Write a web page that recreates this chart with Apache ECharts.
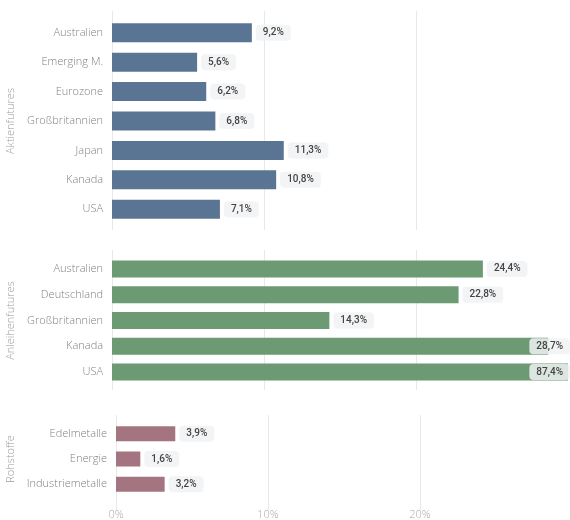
<!DOCTYPE html>
<html>
<head>
<meta charset="utf-8">
<script src="https://cdn.jsdelivr.net/npm/echarts@6/dist/echarts.min.js"></script>
<style>
  html, body { margin: 0; padding: 0; background: #fff; }
  #chart { width: 570px; height: 520px; }
</style>
</head>
<body>
<div id="chart"></div>
<script>
    let aktienCats = ['Australien', 'Emerging M.', 'Eurozone', 'Großbritannien', 'Japan', 'Kanada', 'USA']
    let aktienVals = [9.2, 5.6, 6.2, 6.8, 11.3, 10.8, 7.1]
    let anleihenCats = ['Australien', 'Deutschland', 'Großbritannien', 'Kanada', 'USA']
    let anleihenVals = [24.4, 22.8, 14.3, 28.7, 87.4]
    let rohCats = ['Edelmetalle', 'Energie', 'Industriemetalle']
    let rohVals = [3.9, 1.6, 3.2]
    let groups = ['Aktienfutures', 'Anleihenfutures', 'Rohstoffe']
    let colors = ['#5a7493', '#6b9a73', '#a47480']

    var myChart = echarts.init(document.getElementById('chart'))
    let W = 570
    let font = "'Open Sans', 'Noto Sans', sans-serif"

    // panels: bar grid + slightly taller grid that only carries the vertical lines
    let panels = [
        { cats: aktienCats, vals: aktienVals, left: 112, top: 18, height: 206, lineTop: 11, lineH: 219, bar: 19, gap: 86 },
        { cats: anleihenCats, vals: anleihenVals, left: 112, top: 256, height: 129, lineTop: 250, lineH: 140, bar: 17, gap: 86 },
        { cats: rohCats, vals: rohVals, left: 116, top: 421, height: 76, lineTop: 415, lineH: 95, bar: 15, gap: 90 }
    ]

    let grid = [], xAxis = [], yAxis = [], series = []
    panels.forEach(function (p, i) {
        // background grid with split lines
        grid.push({ left: p.left, top: p.lineTop, width: 30 * 15.2, height: p.lineH, outerBoundsMode: 'none', containLabel: false })
        xAxis.push({
            type: 'value', gridIndex: grid.length - 1, min: 0, max: 30, interval: 10,
            axisLabel: { show: false }, axisLine: { show: false }, axisTick: { show: false },
            splitLine: { showMaxLine: false, lineStyle: { color: '#e8e8e8', width: 1 } }
        })
        yAxis.push({ type: 'value', gridIndex: grid.length - 1, show: false })

        // bar grid
        grid.push({ left: p.left, top: p.top, width: 30 * 15.2, height: p.height, outerBoundsMode: 'none', containLabel: false })
        xAxis.push({
            type: 'value', gridIndex: grid.length - 1, min: 0, max: 30, interval: 10,
            axisLabel: {
                show: i == 2, color: '#aaa', fontSize: 11, fontFamily: font, fontWeight: 300,
                margin: 12, showMaxLabel: false,
                formatter: function (v) { return v + '%' }
            },
            axisLine: { show: false }, axisTick: { show: false }, splitLine: { show: false }
        })
        yAxis.push({
            type: 'category', gridIndex: grid.length - 1, data: p.cats, inverse: true,
            name: groups[i], nameLocation: 'middle', nameRotate: 90, nameGap: p.gap,
            nameTextStyle: { color: '#999', fontSize: 11, fontFamily: font, fontWeight: 300 },
            axisLine: { show: false }, axisTick: { show: false },
            axisLabel: { color: '#808080', fontSize: 11, fontFamily: font, fontWeight: 300, margin: 9 }
        })
        series.push({
            type: 'bar', xAxisIndex: xAxis.length - 1, yAxisIndex: yAxis.length - 1,
            data: p.vals, barWidth: p.bar,
            itemStyle: { color: colors[i] },
            label: {
                show: true, position: 'right', distance: 4,
                formatter: function (e) { return e.value.toFixed(1).replace('.', ',') + '%' },
                color: '#444', fontSize: 10, fontWeight: 500, fontFamily: "Roboto, sans-serif",
                backgroundColor: 'rgba(240,242,243,0.85)', borderRadius: 4, padding: [3, 7]
            },
            labelLayout: function (params) {
                let r = params.labelRect
                if (r.x + r.width > W) {
                    return { dx: W - (r.x + r.width) }
                }
                return {}
            }
        })
    })

    var option = {
        animation: false,
        grid: grid,
        xAxis: xAxis,
        yAxis: yAxis,
        series: series
    }
    myChart.setOption(option)
</script>
</body>
</html>
